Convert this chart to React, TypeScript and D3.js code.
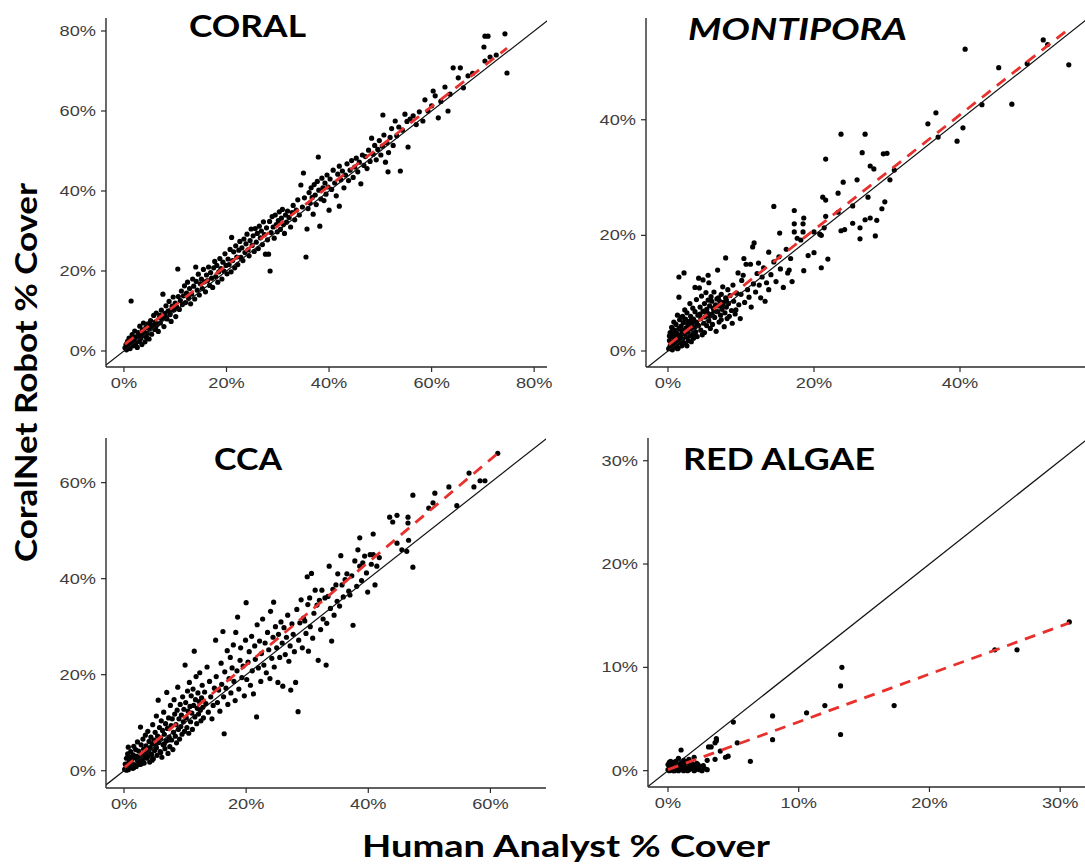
import React from "react";
import * as d3 from "d3";

// ---------- DATA (percent cover: [human analyst, CoralNet robot]) ----------
const coralPoints: [number, number][] = [
  [0.2,0.8],[0.4,1.6],[0.5,0.3],[0.7,2.4],[0.9,1.1],[1.0,3.2],[1.2,0.6],[1.4,12.5],[1.5,2.0],[1.6,4.1],[1.8,1.3],[2.0,2.8],[2.1,5.0],[2.3,1.8],[2.5,3.6],[2.6,0.9],[2.8,4.6],[3.0,2.4],[3.1,6.2],[3.3,3.2],[3.5,1.6],[3.6,5.3],[3.8,7.0],[4.0,3.9],[4.1,2.3],[4.3,5.9],[4.5,4.4],[4.7,6.8],[4.9,3.0],
  [0.6,1.9],[1.1,2.5],[1.9,3.4],[2.4,2.2],[3.2,4.3],[3.9,5.0],[4.4,3.4],[5.3,6.5],[6.2,6.0],[7.0,8.9],[8.1,8.6],[9.1,10.2],
  [5.0,5.5],[5.2,7.6],[5.4,4.2],[5.6,6.3],[5.8,8.9],[6.0,5.4],[6.1,7.2],[6.3,9.5],[6.5,6.6],[6.7,4.9],[6.9,8.3],[7.1,7.0],[7.3,10.2],[7.5,8.0],[7.6,14.2],[7.8,6.1],[8.0,9.4],[8.2,11.3],[8.4,8.0],[8.6,10.0],[8.8,12.4],[9.0,9.1],[9.2,7.4],[9.4,11.2],[9.6,13.5],[9.8,10.3],
  [10.0,12.0],[10.1,8.6],[10.3,11.0],[10.5,20.5],[10.6,13.6],[10.8,10.4],[11.0,12.6],[11.2,15.0],[11.4,11.6],[11.6,13.8],[11.8,16.3],[12.0,12.1],[12.2,14.5],[12.4,17.2],[12.6,13.2],[12.8,15.6],[13.0,11.8],[13.2,14.2],[13.4,18.0],[13.6,16.2],[13.8,13.0],[14.0,21.0],[14.1,17.4],[14.3,15.2],[14.5,19.2],[14.7,14.0],[14.9,16.8],
  [15.1,18.0],[15.3,15.6],[15.5,20.4],[15.7,17.3],[15.9,14.8],[16.1,19.0],[16.3,17.6],[16.5,21.0],[16.7,16.4],[16.9,19.6],[17.1,18.2],[17.3,15.9],[17.5,20.8],[17.7,22.4],[17.9,18.6],[18.1,21.4],[18.3,17.2],[18.5,19.8],[18.7,23.1],[18.9,20.6],[19.1,18.0],[19.3,22.2],[19.5,20.0],[19.7,24.3],[19.9,21.4],
  [20.1,19.3],[20.3,23.0],[20.5,21.6],[20.7,25.4],[20.9,19.8],[21.0,28.4],[21.2,22.6],[21.4,24.8],[21.6,20.8],[21.8,26.3],[22.0,23.5],[22.2,21.6],[22.4,25.2],[22.6,27.4],[22.8,23.4],[23.0,25.8],[23.2,22.6],[23.4,28.0],[23.6,24.6],[23.8,26.8],[24.0,29.2],[24.2,25.3],[24.4,23.8],[24.6,27.6],[24.8,30.5],
  [25.0,26.4],[25.2,28.8],[25.4,24.9],[25.6,30.6],[25.8,27.2],[26.0,29.4],[26.2,25.6],[26.4,31.2],[26.6,28.3],[26.8,30.0],[27.0,26.6],[27.2,32.3],[27.4,29.1],[27.6,24.2],[27.8,30.8],[28.0,27.8],[28.2,24.2],[28.4,32.4],[28.5,20.0],[28.7,29.6],[28.9,33.6],[29.1,31.0],[29.3,28.2],[29.5,34.0],[29.7,31.6],[29.9,29.8],
  [30.1,32.6],[30.3,34.8],[30.5,30.4],[30.7,33.2],[30.9,35.4],[31.1,31.6],[31.3,29.4],[31.5,34.0],[31.7,32.2],[31.9,35.0],[32.2,33.4],[32.5,31.0],[32.8,34.6],[33.0,36.4],[33.3,32.8],[33.6,35.2],[33.9,37.8],[34.2,34.0],[34.5,41.5],[34.8,36.0],[35.0,44.5],[35.2,38.3],[35.5,23.5],[35.7,30.5],[35.9,35.6],
  [36.1,39.6],[36.3,37.0],[36.5,40.8],[36.7,38.4],[36.9,34.2],[37.1,41.6],[37.3,39.0],[37.5,36.6],[37.7,42.4],[37.9,48.5],[38.0,40.2],[38.2,31.2],[38.4,38.0],[38.6,43.2],[38.8,40.8],[39.0,37.6],[39.2,42.0],[39.4,39.2],[39.6,44.0],[39.8,41.0],[40.0,35.2],[40.2,43.0],[40.5,40.4],[40.8,45.2],[41.1,42.0],[41.4,38.8],[41.7,44.2],[42.0,36.2],[42.0,46.2],
  [42.3,42.8],[42.6,45.0],[42.9,40.8],[43.2,44.0],[43.5,46.8],[43.8,42.6],[44.1,45.2],[44.4,47.6],[44.7,43.4],[45.0,46.0],[45.3,48.2],[45.6,44.8],[45.9,47.2],[46.2,41.8],[46.5,49.0],[46.8,46.4],[47.1,48.6],[47.4,45.6],[47.7,50.2],[48.0,47.4],[48.3,53.2],[48.6,49.2],[48.9,51.4],[49.2,47.8],[49.5,50.4],[49.8,52.6],
  [50.1,49.0],[50.4,51.2],[50.5,59.0],[50.7,54.0],[51.0,47.2],[51.3,52.0],[51.5,44.8],[51.6,49.6],[51.9,53.4],[52.2,55.6],[52.5,51.4],[52.9,57.5],[53.2,53.8],[53.6,56.0],[53.9,45.0],[54.3,55.2],[54.8,59.2],[55.2,57.4],[55.4,51.0],[55.8,58.0],[56.4,58.8],[57.0,56.6],[57.6,59.8],[58.3,57.5],[58.7,62.8],[59.3,60.0],
  [60.0,61.3],[60.3,65.0],[60.7,63.8],[61.3,58.3],[61.8,62.4],[62.6,66.0],[63.2,60.0],[63.6,64.2],[64.2,70.8],[65.2,68.3],[65.6,70.8],[66.2,65.8],[67.1,68.8],[68.0,69.4],[70.2,76.0],[70.4,72.5],[70.4,78.7],[71.0,78.7],[71.4,73.5],[72.6,74.0],[74.3,79.3],[74.7,69.5],
];

const montiporaPoints: [number, number][] = [
  [0.1,0.4],[0.2,1.8],[0.3,3.2],[0.3,0.9],[0.4,2.5],[0.5,4.1],[0.5,1.3],[0.6,0.2],[0.7,2.9],[0.8,5.0],[0.8,1.6],[0.9,3.6],[1.0,0.8],[1.0,2.2],[1.1,4.6],[1.2,1.2],[1.2,3.1],[1.3,6.2],[1.4,2.0],[1.4,0.5],[1.5,3.9],[1.5,9.3],[1.5,12.8],[1.6,5.4],[1.7,1.5],[1.7,2.7],[1.8,4.3],[1.9,0.9],[1.9,3.4],[2.0,6.0],[2.0,2.1],[2.1,4.9],[2.2,13.5],[2.2,1.4],[2.3,3.0],[2.3,7.1],[2.4,5.5],[2.5,2.4],[2.5,4.0],[2.6,0.9],[2.6,6.6],[2.7,3.3],[2.8,1.8],[2.8,5.1],[2.9,4.4],[3.0,2.6],[3.0,8.2],
  [0.2,2.6],[0.4,0.6],[0.6,3.8],[0.9,1.9],[1.1,3.0],[1.3,0.4],[1.6,2.4],[1.8,5.8],[2.1,3.6],[2.4,1.2],[2.7,4.7],[3.2,5.4],[3.6,2.6],[4.0,4.6],[4.4,6.4],[5.0,6.8],[5.7,6.0],[6.3,7.0],[6.9,9.2],[7.5,7.8],[8.0,8.8],
  [3.1,3.8],[3.1,6.0],[3.2,1.6],[3.3,4.8],[3.4,3.0],[3.4,7.4],[3.5,5.5],[3.5,2.2],[3.6,4.1],[3.7,6.8],[3.7,11.0],[3.8,3.3],[3.9,5.0],[3.9,8.9],[4.0,2.5],[4.1,6.2],[4.2,12.6],[4.2,4.4],[4.3,10.9],[4.4,7.6],[4.5,3.6],[4.5,5.6],[4.6,9.5],[4.7,2.8],[4.8,12.3],[4.8,6.9],[4.9,4.8],[5.0,8.2],[5.0,3.2],[5.1,5.9],[5.2,10.1],[5.3,7.2],[5.3,4.4],[5.4,6.6],[5.5,13.1],[5.5,8.8],[5.6,11.8],[5.6,5.2],[5.7,7.8],[5.8,3.9],[5.9,9.4],[6.0,6.4],
  [6.0,8.6],[6.1,4.6],[6.2,7.4],[6.3,10.2],[6.4,5.8],[6.5,8.0],[6.6,3.4],[6.7,9.0],[6.8,14.0],[6.8,6.8],[6.9,7.8],[7.0,5.0],[7.1,8.6],[7.2,6.2],[7.3,5.4],[7.3,9.8],[7.4,7.2],[7.5,11.1],[7.6,8.4],[7.7,4.2],[7.8,6.6],[7.9,16.1],[7.9,9.2],[8.0,7.6],[8.1,5.6],[8.2,10.6],[8.3,8.2],[8.4,6.0],[8.5,9.6],[8.7,7.0],[8.8,4.8],[8.9,11.4],[9.0,8.6],[9.2,6.4],[9.3,7.1],[9.4,10.0],[9.6,13.5],[9.7,8.0],[9.9,5.6],[10.0,9.8],
  [10.1,12.2],[10.3,13.1],[10.4,16.0],[10.5,8.4],[10.7,15.0],[10.9,10.6],[11.1,9.3],[11.3,15.0],[11.4,7.6],[11.6,18.0],[11.7,11.6],[11.8,18.7],[12.0,10.2],[12.2,13.4],[12.4,15.2],[12.5,11.4],[12.7,9.2],[12.9,12.8],[13.1,14.4],[13.3,8.6],[13.5,11.8],[13.8,17.1],[13.8,10.6],[14.1,13.2],[14.5,25.0],[14.5,15.4],[14.8,12.0],
  [15.2,16.3],[15.3,20.4],[15.4,14.2],[15.8,11.0],[16.2,17.6],[16.4,13.5],[16.6,14.0],[16.8,16.0],[17.0,12.0],[17.3,24.3],[17.3,20.6],[17.3,22.0],[17.7,19.5],[18.2,19.2],[18.5,20.6],[18.5,22.0],[18.6,23.0],[18.6,13.9],[19.2,16.5],[20.0,20.6],[20.0,17.0],[20.8,20.2],[21.0,20.0],[21.0,14.4],[21.2,26.6],[21.4,21.3],[21.6,26.1],[21.6,23.3],[21.6,33.2],[21.9,15.9],
  [23.3,27.3],[23.3,24.0],[23.7,37.5],[23.7,20.8],[24.2,21.0],[24.0,29.2],[25.3,25.1],[25.3,22.1],[25.9,29.6],[26.3,21.3],[26.3,19.4],[26.6,34.3],[27.0,37.5],[27.0,22.7],[27.4,26.6],[27.7,32.0],[27.7,23.0],[28.2,31.5],[28.4,19.9],[28.6,22.6],[29.3,24.6],[29.5,34.1],[29.7,25.8],[30.0,34.2],[30.4,29.6],[31.0,31.3],
  [35.6,39.3],[36.7,41.2],[37.0,37.0],[39.6,36.3],[40.4,38.6],[40.7,52.2],[43.0,42.6],[45.3,49.0],[47.1,42.7],[49.2,49.7],[51.4,53.8],[52.0,53.0],[54.9,49.5],
];

const ccaPoints: [number, number][] = [
  [0.1,0.3],[0.2,1.4],[0.3,0.6],[0.4,2.6],[0.5,1.0],[0.6,3.5],[0.7,4.9],[0.7,0.2],[0.8,1.8],[0.9,2.9],[1.0,0.8],[1.1,4.0],[1.2,1.5],[1.3,2.4],[1.4,0.5],[1.5,3.3],[1.6,5.1],[1.7,1.2],[1.8,2.7],[1.9,4.4],[2.0,0.9],[2.1,3.0],[2.2,6.0],[2.3,1.9],[2.4,4.1],[2.5,2.8],[2.6,1.3],[2.7,9.1],[2.8,5.4],[2.9,3.4],[3.0,2.1],[3.1,6.6],[3.2,4.5],[3.3,1.6],[3.4,3.7],[3.5,7.4],[3.6,5.2],[3.7,2.6],[3.8,4.0],[3.9,8.2],[4.0,3.0],[4.1,6.1],[4.2,1.8],[4.3,4.8],[4.4,7.0],[4.5,3.4],[4.6,5.6],[4.7,9.6],[4.8,2.5],[4.9,6.4],
  [0.4,0.1],[1.0,2.0],[1.6,0.6],[2.2,2.3],[2.8,1.4],[3.4,2.8],[4.1,4.2],[4.6,2.2],[5.3,4.8],[6.0,3.8],[6.6,5.6],[7.3,6.4],
  [5.0,4.2],[5.1,8.0],[5.2,5.3],[5.3,11.4],[5.4,3.2],[5.5,7.2],[5.6,14.7],[5.7,5.9],[5.8,9.0],[5.9,4.0],[6.0,6.8],[6.1,10.4],[6.2,2.8],[6.3,8.4],[6.4,5.4],[6.5,12.2],[6.6,7.6],[6.7,4.6],[6.8,9.8],[6.9,6.2],[7.0,16.3],[7.1,8.8],[7.2,3.6],[7.3,11.0],[7.4,7.0],[7.5,5.0],[7.6,13.6],[7.7,9.4],[7.8,6.4],[7.9,10.8],[8.0,4.4],[8.1,8.0],[8.2,14.8],[8.3,11.8],[8.4,7.2],[8.5,9.6],[8.6,5.8],[8.7,12.6],[8.8,17.4],[8.9,8.6],[9.0,10.8],[9.1,6.6],[9.2,13.8],[9.3,9.2],[9.4,11.6],[9.5,7.6],[9.6,15.4],[9.7,10.2],[9.8,12.8],[9.9,8.2],
  [10.0,22.0],[10.1,14.2],[10.2,11.0],[10.3,9.0],[10.4,16.6],[10.5,12.4],[10.6,7.8],[10.7,18.4],[10.8,13.4],[10.9,10.2],[11.0,15.6],[11.1,12.0],[11.2,8.6],[11.3,17.0],[11.4,13.6],[11.5,24.9],[11.6,11.2],[11.7,14.8],[11.8,19.6],[11.9,9.8],[12.0,13.0],[12.1,16.2],[12.2,11.8],[12.3,14.4],[12.4,20.4],[12.5,12.6],[12.6,10.4],[12.7,15.2],[12.8,17.8],[12.9,13.2],[13.0,11.0],[13.2,16.4],[13.4,14.0],[13.6,21.6],[13.8,12.2],[14.0,18.6],[14.2,15.4],[14.4,10.8],[14.6,13.6],[14.8,17.2],
  [15.0,27.2],[15.1,19.6],[15.3,14.2],[15.5,16.8],[15.7,12.4],[15.9,22.4],[16.0,18.0],[16.2,29.0],[16.3,15.4],[16.4,7.7],[16.5,20.6],[16.7,17.2],[16.9,25.0],[17.0,13.8],[17.2,19.2],[17.4,23.6],[17.5,16.2],[17.7,21.4],[17.9,26.2],[18.0,18.6],[18.2,14.6],[18.3,28.8],[18.5,20.8],[18.6,32.0],[18.8,17.0],[19.0,23.0],[19.1,25.6],[19.3,19.4],[19.5,21.8],[19.7,15.6],[19.9,27.2],[20.0,35.0],
  [20.1,19.0],[20.3,22.6],[20.5,24.8],[20.7,17.8],[20.9,28.0],[21.0,20.8],[21.2,16.0],[21.4,26.0],[21.5,23.2],[21.7,11.2],[21.8,30.4],[22.0,21.4],[22.2,27.0],[22.4,18.6],[22.5,24.4],[22.7,31.6],[22.9,22.0],[23.1,26.6],[23.3,20.4],[23.5,28.8],[23.7,25.2],[23.9,19.2],[24.0,33.2],[24.2,23.4],[24.4,27.8],[24.5,35.1],[24.6,21.6],[24.8,30.0],[25.0,25.6],
  [25.2,18.4],[25.3,28.4],[25.5,23.6],[25.7,31.0],[25.9,26.6],[26.0,17.6],[26.2,29.8],[26.4,24.2],[26.6,27.8],[26.8,32.4],[27.0,22.8],[27.2,26.0],[27.3,16.8],[27.5,30.6],[27.7,28.4],[27.9,24.8],[28.1,18.4],[28.3,33.6],[28.5,12.3],[28.6,27.2],[28.8,30.8],[29.0,35.6],[29.2,25.6],[29.4,31.8],[29.6,31.2],[29.8,28.6],[30.0,40.4],
  [30.1,34.6],[30.2,24.9],[30.4,36.0],[30.5,30.0],[30.7,41.1],[30.9,27.6],[31.1,32.8],[31.3,37.6],[31.6,34.5],[31.8,23.0],[32.0,35.5],[32.2,29.4],[32.4,37.6],[32.6,31.6],[32.9,36.0],[33.1,22.0],[33.2,30.7],[33.4,36.3],[33.6,42.6],[33.8,33.8],[34.0,27.0],[34.2,37.8],[34.4,32.4],[34.7,38.7],[34.9,35.3],[35.0,41.0],
  [35.3,34.3],[35.5,44.8],[35.7,38.7],[35.9,36.2],[36.2,39.8],[36.5,41.0],[36.8,37.4],[37.0,36.6],[37.3,40.6],[37.5,30.3],[37.8,43.7],[38.1,38.4],[38.3,46.0],[38.6,48.5],[38.6,42.6],[38.9,39.6],[39.1,43.3],[39.4,44.7],[39.7,41.2],[39.9,37.2],[40.3,45.0],[40.5,43.0],[40.8,49.3],[40.8,45.0],[41.1,38.7],[41.4,42.6],[41.8,44.4],
  [43.5,52.8],[44.0,51.8],[44.7,53.2],[44.7,47.4],[45.5,46.0],[46.3,45.7],[46.5,52.8],[46.5,51.6],[46.6,48.0],[47.3,57.4],[47.3,42.4],[49.9,54.7],[50.6,55.8],[50.9,57.8],[53.2,59.1],[54.5,55.2],[56.5,62.0],[57.3,59.1],[58.3,60.4],[59.1,60.4],[61.2,66.1],
];

const redAlgaePoints: [number, number][] = [
  [0.0,0.1],[0.1,0.5],[0.2,0.2],[0.3,0.7],[0.4,0.0],[0.5,0.4],[0.6,0.9],[0.7,0.2],[0.8,0.6],[0.9,0.1],[1.0,0.8],[1.0,0.3],[1.1,0.5],[1.2,0.0],[1.3,0.7],[1.4,0.3],[1.5,0.9],[1.6,0.1],[1.7,0.5],[1.8,0.2],[1.9,0.6],[2.0,0.0],[2.1,0.4],[2.2,0.2],[2.3,0.6],[2.4,0.1],[0.2,0.9],[0.6,0.5],[1.2,1.0],[2.8,0.2],[0.8,1.2],[1.6,1.1],
  [0.0,0.6],[0.1,0.0],[0.3,0.3],[0.4,0.8],[0.5,0.0],[0.7,0.6],[0.9,0.4],[1.1,0.1],[1.2,0.6],[1.4,0.8],[1.5,0.0],[1.7,0.2],[1.8,0.8],[2.0,0.5],[2.1,0.1],[2.2,0.7],[2.4,0.4],[2.6,0.0],[2.7,0.5],[3.0,0.1],[0.1,0.8],[0.3,0.1],[0.5,0.7],[0.8,0.0],[1.3,0.4],[1.9,0.3],
  [1.0,2.0],[2.0,1.3],[3.0,1.0],[3.1,2.3],[3.3,2.3],[3.6,1.1],[3.6,2.7],[3.7,2.9],[3.7,3.1],[4.0,1.9],[4.4,1.3],[4.6,1.4],[5.0,4.7],[5.3,2.7],[6.3,0.9],[8.0,5.3],[8.0,3.0],[10.6,5.6],[12.0,6.3],[13.2,8.2],[13.2,3.5],[13.3,10.0],[17.3,6.3],[25.0,11.7],[26.7,11.7],[30.7,14.4],
];

// Fitted (linear regression) line end points
const coralFit: [number, number][] = [[0.2, 1.7], [74.7, 75.7]];
const montiporaFit: [number, number][] = [[0.1, 1.1], [54.9, 55.7]];
const ccaFit: [number, number][] = [[0.1, 0.7], [61.2, 66.1]];
const redAlgaeFit: [number, number][] = [[0.0, 0.1], [30.7, 14.3]];

// Tick values
const coralTicks = [0, 20, 40, 60, 80];
const montiporaTicks = [0, 20, 40];
const ccaTicks = [0, 20, 40, 60];
const redAlgaeTicks = [0, 10, 20, 30];

const panelTitles = ["CORAL", "MONTIPORA", "CCA", "RED ALGAE"];
const xAxisTitle = "Human Analyst % Cover";
const yAxisTitle = "CoralNet Robot % Cover";

// ---------- LAYOUT ----------
type Panel = {
  title: string;
  italic: boolean;
  points: [number, number][];
  fit: [number, number][];
  ticks: number[];
  xDomain: [number, number];
  yDomain: [number, number];
  left: number; right: number; top: number; bottom: number;
  titleX: number; titleY: number; titleW: number;
};

const panels: Panel[] = [
  { title: panelTitles[0], italic: false, points: coralPoints, fit: coralFit, ticks: coralTicks,
    xDomain: [-3.5, 82.5], yDomain: [-4, 83.25], left: 106, right: 547, top: 18, bottom: 367,
    titleX: 189, titleY: 37, titleW: 117 },
  { title: panelTitles[1], italic: true, points: montiporaPoints, fit: montiporaFit, ticks: montiporaTicks,
    xDomain: [-3.01, 57.12], yDomain: [-2.77, 57.6], left: 646, right: 1085, top: 18, bottom: 367,
    titleX: 688, titleY: 40, titleW: 219 },
  { title: panelTitles[2], italic: false, points: ccaPoints, fit: ccaFit, ticks: ccaTicks,
    xDomain: [-2.95, 69.1], yDomain: [-3.6, 69.3], left: 106, right: 546, top: 438, bottom: 788,
    titleX: 214, titleY: 470, titleW: 68 },
  { title: panelTitles[3], italic: false, points: redAlgaePoints, fit: redAlgaeFit, ticks: redAlgaeTicks,
    xDomain: [-1.53, 31.9], yDomain: [-1.58, 32.2], left: 648, right: 1085, top: 438, bottom: 787,
    titleX: 683, titleY: 470, titleW: 192 },
];

const TICK_FONT = "'Liberation Sans', Arial, Helvetica, sans-serif";
const TITLE_FONT = "Lato, 'Open Sans', 'DejaVu Sans', sans-serif";
const AXIS_COLOR = "#2b2b2b";
const TICK_TEXT = "#3d3d3d";
const RED = "#e8302c";

function PanelView({ p, idx }: { p: Panel; idx: number }) {
  const x = d3.scaleLinear().domain(p.xDomain).range([p.left, p.right]);
  const y = d3.scaleLinear().domain(p.yDomain).range([p.bottom, p.top]);
  const line = d3.line<[number, number]>().x((d) => x(d[0])).y((d) => y(d[1]));
  const lo = Math.min(p.xDomain[0], p.yDomain[0]);
  const hi = Math.max(p.xDomain[1], p.yDomain[1]);
  const clipId = `clip-${idx}`;
  const fmt = (v: number) => `${v}%`;
  return (
    <g>
      <defs>
        <clipPath id={clipId}>
          <rect x={p.left} y={p.top} width={p.right - p.left} height={p.bottom - p.top} />
        </clipPath>
      </defs>
      <g clipPath={`url(#${clipId})`}>
        {p.points.map((d, i) => (
          <circle key={i} cx={x(d[0])} cy={y(d[1])} r={2.6} fill="#000" />
        ))}
        <path d={line([[lo, lo], [hi, hi]]) || ""} stroke="#111" strokeWidth={1.2} fill="none" />
        <path d={line(p.fit) || ""} stroke={RED} strokeWidth={2.8} strokeDasharray="11,8" fill="none" />
      </g>
      {/* axes */}
      <line x1={p.left} x2={p.right} y1={p.bottom} y2={p.bottom} stroke={AXIS_COLOR} strokeWidth={1.4} />
      <line x1={p.left} x2={p.left} y1={p.top} y2={p.bottom} stroke={AXIS_COLOR} strokeWidth={1.4} />
      {p.ticks.map((t) => (
        <g key={`x${t}`}>
          <line x1={x(t)} x2={x(t)} y1={p.bottom} y2={p.bottom + 5} stroke={AXIS_COLOR} strokeWidth={1.2} />
          <text transform={`translate(${x(t)},${p.bottom + 21}) scale(1.3,1)`} textAnchor="middle"
            fontFamily={TICK_FONT} fontSize={14} fill={TICK_TEXT}>{fmt(t)}</text>
        </g>
      ))}
      {p.ticks.map((t) => (
        <g key={`y${t}`}>
          <line x1={p.left - 5} x2={p.left} y1={y(t)} y2={y(t)} stroke={AXIS_COLOR} strokeWidth={1.2} />
          <text transform={`translate(${p.left - 10},${y(t) + 5}) scale(1.3,1)`} textAnchor="end"
            fontFamily={TICK_FONT} fontSize={14} fill={TICK_TEXT}>{fmt(t)}</text>
        </g>
      ))}
      <text x={p.titleX} y={p.titleY} fontFamily={TITLE_FONT} fontWeight={700}
        fontStyle={p.italic ? "italic" : "normal"} fontSize={30} fill="#000"
        textLength={p.titleW} lengthAdjust="spacingAndGlyphs">{p.title}</text>
    </g>
  );
}

export default function App() {
  return (
    <div style={{ position: "absolute", left: 0, top: 0, width: 1085, height: 866, background: "#fff" }}>
      <svg width={1085} height={866} viewBox="0 0 1085 866" style={{ display: "block" }}>
        <rect x={0} y={0} width={1085} height={866} fill="#fff" />
        {panels.map((p, i) => (
          <PanelView key={i} p={p} idx={i} />
        ))}
        <text x={362} y={857} fontFamily={TITLE_FONT} fontWeight={700} fontSize={31} fill="#000"
          textLength={408} lengthAdjust="spacingAndGlyphs">{xAxisTitle}</text>
        <text transform="translate(37,562) rotate(-90)" x={0} y={0} fontFamily={TITLE_FONT} fontWeight={700}
          fontSize={31} fill="#000" textLength={379} lengthAdjust="spacingAndGlyphs">{yAxisTitle}</text>
      </svg>
    </div>
  );
}
